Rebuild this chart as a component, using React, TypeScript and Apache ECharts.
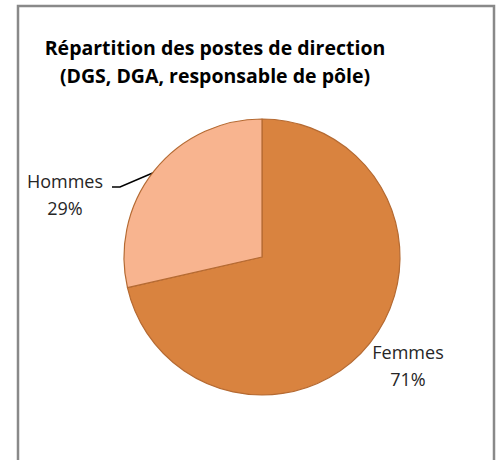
import React, { useEffect, useRef } from "react";
import * as echarts from "echarts";

const categories = ["Femmes", "Hommes"];
const values = [5, 2];
const colors = ["#D9833F", "#F8B48F"];
const titleLines = ["Répartition des postes de direction", "(DGS, DGA, responsable de pôle)"];

export default function App() {
  const ref = useRef<HTMLDivElement>(null);
  useEffect(() => {
    if (!ref.current) return;
    const chart = echarts.init(ref.current, null, { renderer: "svg" });
    chart.setOption({
      animation: false,
      backgroundColor: "#ffffff",
      graphic: [
        {
          type: "rect",
          shape: { x: 18, y: 6, width: 476, height: 470 },
          style: { fill: "none", stroke: "#898989", lineWidth: 2.5 },
          silent: true,
        },
        {
          type: "text",
          x: 215,
          y: 47,
          style: {
            text: titleLines[0],
            font: "bold 19.5px 'Open Sans'",
            fill: "#000000",
            align: "center",
            verticalAlign: "middle",
          },
        },
        {
          type: "text",
          x: 215,
          y: 75,
          style: {
            text: titleLines[1],
            font: "bold 19.5px 'Open Sans'",
            fill: "#000000",
            align: "center",
            verticalAlign: "middle",
          },
        },
      ],
      series: [
        {
          type: "pie",
          center: [262, 257],
          radius: 138,
          startAngle: 90,
          clockwise: true,
          percentPrecision: 0,
          itemStyle: { borderColor: "#B56A32", borderWidth: 1.2 },
          label: {
            show: true,
            formatter: "{b}\n{d}%",
            fontFamily: "Open Sans",
            fontSize: 18,
            lineHeight: 27,
            color: "#262626",
            align: "center",
          },
          labelLine: { show: true, lineStyle: { color: "#000000", width: 1.5 }, length: 10, length2: 10 },
          labelLayout: (params: any) => {
            if (params.dataIndex === 0) {
              return { x: 408, y: 365, align: "center", verticalAlign: "middle", labelLinePoints: [[0, 0], [0, 0], [0, 0]] };
            }
            return {
              x: 65,
              y: 194,
              align: "center",
              verticalAlign: "middle",
              labelLinePoints: [[155, 172], [120, 187], [112, 187]],
            };
          },
          data: categories.map((c, i) => ({ name: c, value: values[i], itemStyle: { color: colors[i] } })),
        },
      ],
    });
    return () => chart.dispose();
  }, []);
  return <div ref={ref} style={{ position: "fixed", left: 0, top: 0, width: 498, height: 460 }} />;
}
